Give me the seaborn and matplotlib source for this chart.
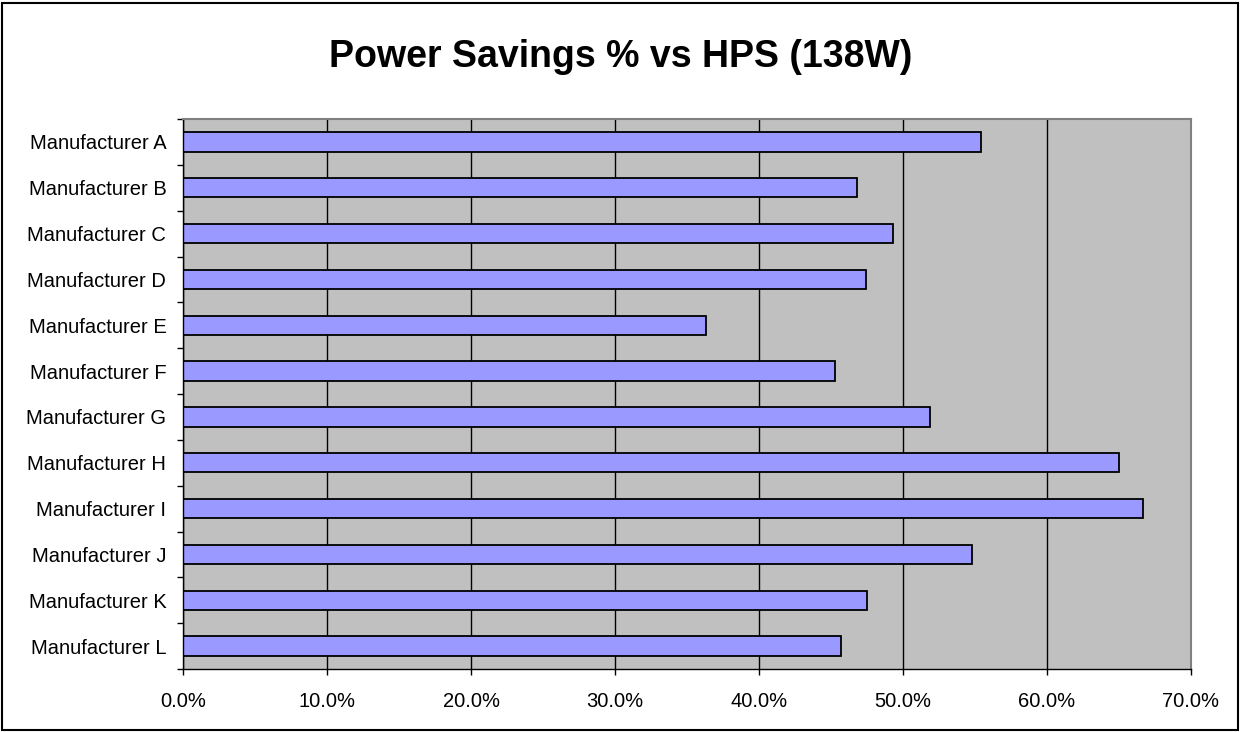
import matplotlib.pyplot as plt
import matplotlib.ticker as mtick
from matplotlib.patches import Rectangle
import numpy as np
import pandas as pd
import seaborn as sns

sns.set_theme(style="ticks")
plt.rcParams["font.family"] = ["Liberation Sans", "DejaVu Sans"]
plt.rcParams["text.color"] = "black"

# values
manufacturers = ["Manufacturer A", "Manufacturer B", "Manufacturer C", "Manufacturer D",
                 "Manufacturer E", "Manufacturer F", "Manufacturer G", "Manufacturer H",
                 "Manufacturer I", "Manufacturer J", "Manufacturer K", "Manufacturer L"]
savings = [0.554, 0.468, 0.493, 0.474, 0.363, 0.453, 0.519, 0.650, 0.667, 0.548, 0.475, 0.457]
x_ticks = [0.0, 0.1, 0.2, 0.3, 0.4, 0.5, 0.6, 0.7]

df = pd.DataFrame({"Manufacturer": manufacturers, "Savings": savings})

fig = plt.figure(figsize=(12.42, 7.32), dpi=100)
ax = fig.add_axes([183 / 1242, 1 - 669 / 732, (1191 - 183) / 1242, (669 - 119) / 732])
ax.set_facecolor("#C0C0C0")

sns.barplot(data=df, y="Manufacturer", x="Savings", order=manufacturers, orient="h",
            color="#9999FF", saturation=1, width=0.42, edgecolor="black", linewidth=1.3, ax=ax)

ax.set_xlim(0, 0.7)
ax.set_xticks(x_ticks)
ax.xaxis.set_major_formatter(mtick.PercentFormatter(xmax=1, decimals=1))
ax.xaxis.grid(True, color="black", linewidth=1)
ax.set_axisbelow(True)
ax.set_xlabel("")
ax.set_ylabel("")

# y ticks sit between the categories, labels in the middle
ax.set_yticks(np.arange(-0.5, len(manufacturers), 1), minor=True)
ax.tick_params(axis="y", which="major", length=0, pad=12, labelsize=14.5, colors="black")
ax.tick_params(axis="y", which="minor", length=4.5, width=1, color="black")
ax.tick_params(axis="x", which="major", length=4.5, width=1, pad=12, labelsize=14.5, colors="black")

for side in ["left", "bottom"]:
    ax.spines[side].set_color("black")
    ax.spines[side].set_linewidth(1)
for side in ["top", "right"]:
    ax.spines[side].set_visible(True)
    ax.spines[side].set_color("#808080")
    ax.spines[side].set_linewidth(1.5)

fig.text(0.5, 1 - 66.7 / 732, "Power Savings % vs HPS (138W)", ha="center", va="baseline",
         fontsize=27, fontweight="bold", color="black")

fig.patches.append(Rectangle((0.002, 0.003), 0.995, 0.993, transform=fig.transFigure,
                             fill=False, edgecolor="black", linewidth=1.5))

fig.savefig("out.png", dpi=100, facecolor="white")
